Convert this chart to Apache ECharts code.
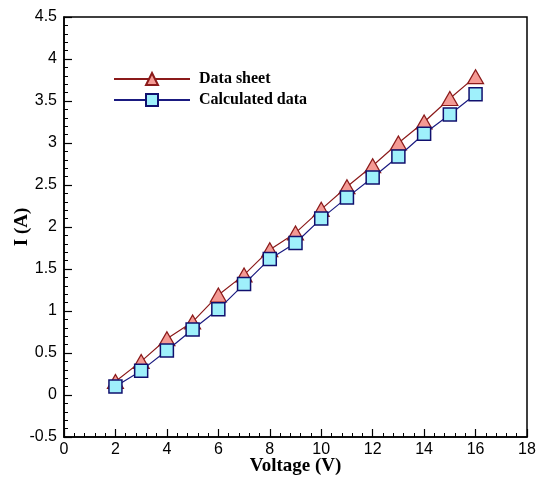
<!DOCTYPE html>
<html>
<head>
<meta charset="utf-8">
<script src="https://cdn.jsdelivr.net/npm/echarts@6/dist/echarts.min.js"></script>
<style>html,body{margin:0;padding:0;background:#fff;}#c{width:539px;height:477px;}</style>
</head>
<body>
<div id="c"></div>
<script>
var voltage = [2, 3, 4, 5, 6, 7, 8, 9, 10, 11, 12, 13, 14, 15, 16];
var dataSheet = [0.16, 0.40, 0.67, 0.87, 1.19, 1.43, 1.73, 1.93, 2.21, 2.48, 2.73, 3.00, 3.25, 3.53, 3.79];
var calculated = [0.10, 0.29, 0.53, 0.78, 1.02, 1.32, 1.62, 1.81, 2.10, 2.35, 2.59, 2.84, 3.11, 3.34, 3.58];
var seriesNames = ['Data sheet', 'Calculated data'];

function pairs(xs, ys) { return xs.map(function (x, i) { return [x, ys[i]]; }); }

var chart = echarts.init(document.getElementById('c'));
chart.setOption({
  animation: false,
  backgroundColor: '#fff',
  grid: { left: 64, right: 12, top: 17, bottom: 40, containLabel: false, outerBoundsMode: 'none', show: true, borderColor: '#000', borderWidth: 1.5, backgroundColor: 'transparent' },
  legend: {
    left: 108, top: 66, orient: 'vertical', itemWidth: 76, itemHeight: 15, itemGap: 5,
    textStyle: { fontFamily: 'Liberation Serif', fontWeight: 'bold', fontSize: 16, color: '#000', padding: [0, 0, 0, 4] },
    data: seriesNames
  },
  xAxis: {
    type: 'value', min: 0, max: 18, interval: 2,
    name: 'Voltage (V)', nameLocation: 'middle', nameGap: 20, nameMoveOverlap: false,
    nameTextStyle: { fontFamily: 'Liberation Serif', fontWeight: 'bold', fontSize: 19, color: '#000' },
    axisLine: { onZero: false, lineStyle: { color: '#000', width: 1.5 } },
    axisTick: { inside: true, length: 8, lineStyle: { color: '#000', width: 1.2 } },
    minorTick: { show: true, splitNumber: 5, length: 4, lineStyle: { color: '#000', width: 1 } },
    splitLine: { show: false },
    axisLabel: { fontFamily: 'Liberation Sans', fontSize: 16, color: '#000', margin: 5 }
  },
  yAxis: {
    type: 'value', min: -0.5, max: 4.5, interval: 0.5,
    name: 'I (A)', nameLocation: 'middle', nameGap: 32, nameMoveOverlap: false,
    nameTextStyle: { fontFamily: 'Liberation Serif', fontWeight: 'bold', fontSize: 19, color: '#000' },
    axisLine: { onZero: false, lineStyle: { color: '#000', width: 1.5 } },
    axisTick: { inside: true, length: 8, lineStyle: { color: '#000', width: 1.2 } },
    minorTick: { show: true, splitNumber: 5, length: 4, lineStyle: { color: '#000', width: 1 } },
    splitLine: { show: false },
    axisLabel: { fontFamily: 'Liberation Sans', fontSize: 16, color: '#000', margin: 7 }
  },
  series: [
    {
      name: seriesNames[0], type: 'line', data: pairs(voltage, dataSheet),
      symbol: 'triangle', symbolSize: [16, 14],
      lineStyle: { color: '#8b1a1a', width: 1.2 },
      itemStyle: { color: '#f49a94', borderColor: '#8b1a1a', borderWidth: 1.2 },
      z: 2
    },
    {
      name: seriesNames[1], type: 'line', data: pairs(voltage, calculated),
      symbol: 'rect', symbolSize: 13,
      lineStyle: { color: '#1a1a80', width: 1.2 },
      itemStyle: { color: '#9ff0fb', borderColor: '#10106e', borderWidth: 1.5 },
      z: 3
    }
  ]
});
</script>
</body>
</html>
